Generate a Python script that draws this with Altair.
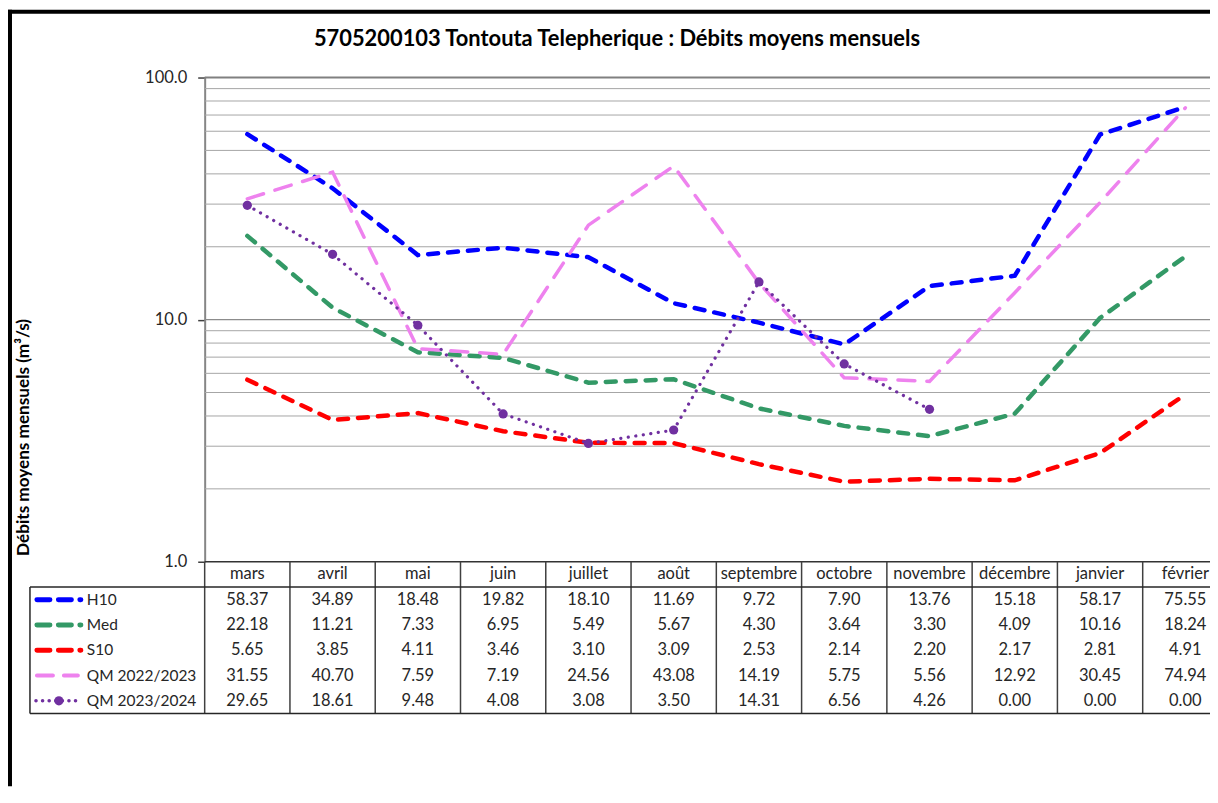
import altair as alt
import pandas as pd

# ---------------- data ----------------
months = ["mars", "avril", "mai", "juin", "juillet", "août", "septembre",
          "octobre", "novembre", "décembre", "janvier", "février"]
series_names = ["H10", "Med", "S10", "QM 2022/2023", "QM 2023/2024"]
h10 = [58.37, 34.89, 18.48, 19.82, 18.10, 11.69, 9.72, 7.90, 13.76, 15.18, 58.17, 75.55]
med = [22.18, 11.21, 7.33, 6.95, 5.49, 5.67, 4.30, 3.64, 3.30, 4.09, 10.16, 18.24]
s10 = [5.65, 3.85, 4.11, 3.46, 3.10, 3.09, 2.53, 2.14, 2.20, 2.17, 2.81, 4.91]
qm2223 = [31.55, 40.70, 7.59, 7.19, 24.56, 43.08, 14.19, 5.75, 5.56, 12.92, 30.45, 74.94]
qm2324 = [29.65, 18.61, 9.48, 4.08, 3.08, 3.50, 14.31, 6.56, 4.26, 0.00, 0.00, 0.00]
series_values = [h10, med, s10, qm2223, qm2324]
colors = ["#0000FF", "#339966", "#FF0000", "#EE82EE", "#7030A0"]
minor_grid = [2, 3, 4, 5, 6, 7, 8, 9, 20, 30, 40, 50, 60, 70, 80, 90]
major_ticks = [1, 10, 100]

title_text = "5705200103 Tontouta Telepherique : Débits moyens mensuels"
y_title = "Débits moyens mensuels (m³/s)"

FONT = "Lato"
W = 1025
H = 485
TABLE_H = 152
STEP = W / 12

x_enc = alt.X("month:N", sort=months,
              scale=alt.Scale(type="point", padding=0.5, domain=months), axis=None)
ylog = alt.Scale(type="log", domain=[1, 100])
row_scale = alt.Scale(domain=[0, 6], range=[H, H + TABLE_H])

dummy = pd.DataFrame({"a": [0]})

layers = []

# ---------- gridlines ----------
grid_df = pd.DataFrame({"v": minor_grid})
layers.append(alt.Chart(grid_df).mark_rule(color="#A6A6A6", strokeWidth=1).encode(
    x=alt.value(0), x2=alt.value(W),
    y=alt.Y("v:Q", scale=ylog, axis=None)))
layers.append(alt.Chart(pd.DataFrame({"v": [10]})).mark_rule(color="#8C8C8C", strokeWidth=1.3).encode(
    x=alt.value(0), x2=alt.value(W),
    y=alt.Y("v:Q", scale=ylog, axis=None)))
layers.append(alt.Chart(pd.DataFrame({"v": [100]})).mark_rule(color="#808080", strokeWidth=2).encode(
    x=alt.value(0), x2=alt.value(W),
    y=alt.Y("v:Q", scale=ylog, axis=alt.Axis(
        values=major_ticks, format=".1f", labelFont=FONT, labelFontSize=16.5,
        labelColor="#262626", labelPadding=11, tickSize=7, tickColor="#404040",
        tickWidth=1.5, domainColor="#868686", domainWidth=2, grid=False,
        title=y_title, titleFont=FONT, titleFontSize=17.2, titleFontWeight="bold",
        titleColor="#000000", titleX=-181, titleY=360, titleAlign="center",
        titleBaseline="middle", titleAngle=270))))
layers.append(alt.Chart(pd.DataFrame({"v": [1]})).mark_rule(color="#333333", strokeWidth=1.5).encode(
    x=alt.value(0), x2=alt.value(W),
    y=alt.Y("v:Q", scale=ylog, axis=None)))

# ---------- series lines ----------
line_styles = [
    dict(strokeWidth=4.5, strokeDash=[10, 10], strokeCap="round"),
    dict(strokeWidth=4.5, strokeDash=[10, 10], strokeCap="round"),
    dict(strokeWidth=4.5, strokeDash=[10, 10], strokeCap="round"),
    dict(strokeWidth=3.5, strokeDash=[17, 12], strokeCap="round"),
    dict(strokeWidth=3.2, strokeDash=[0.1, 7.5], strokeCap="round"),
]
for name, vals, col, st in zip(series_names, series_values, colors, line_styles):
    df = pd.DataFrame({"month": months, "value": vals})
    df = df[df["value"] > 0]
    layers.append(alt.Chart(df).mark_line(color=col, **st).encode(
        x=x_enc, y=alt.Y("value:Q", scale=ylog, axis=None)))
    if name == "QM 2023/2024":
        layers.append(alt.Chart(df).mark_point(filled=True, color=col, size=85, opacity=1).encode(
            x=x_enc, y=alt.Y("value:Q", scale=ylog, axis=None)))

# ---------- data table ----------
sep_df = pd.DataFrame({"month": months, "r0": [0] * 12, "r1": [6] * 12})
layers.append(alt.Chart(sep_df).mark_rule(color="#404040", strokeWidth=1.5, xOffset=-STEP / 2).encode(
    x=x_enc, y=alt.Y("r0:Q", scale=row_scale, axis=None), y2="r1:Q"))
hl_df = pd.DataFrame({"r": [1, 6]})
layers.append(alt.Chart(hl_df).mark_rule(color="#262626", strokeWidth=1.5).encode(
    x=alt.value(-175), x2=alt.value(W), y=alt.Y("r:Q", scale=row_scale, axis=None)))
lb_df = pd.DataFrame({"r0": [1], "r1": [6]})
layers.append(alt.Chart(lb_df).mark_rule(color="#262626", strokeWidth=1.5).encode(
    x=alt.value(-175), y=alt.Y("r0:Q", scale=row_scale, axis=None), y2="r1:Q"))
hdr_df = pd.DataFrame({"month": months, "r": [0.5] * 12})
layers.append(alt.Chart(hdr_df).mark_text(font=FONT, fontSize=16.5, color="#262626").encode(
    x=x_enc, y=alt.Y("r:Q", scale=row_scale, axis=None), text="month:N"))
rows = []
for i, (name, vals) in enumerate(zip(series_names, series_values)):
    for m, v in zip(months, vals):
        rows.append({"month": m, "r": i + 1.5, "label": f"{v:.2f}"})
val_df = pd.DataFrame(rows)
layers.append(alt.Chart(val_df).mark_text(font=FONT, fontSize=16.5, color="#262626").encode(
    x=x_enc, y=alt.Y("r:Q", scale=row_scale, axis=None), text="label:N"))

swatch_styles = [
    dict(strokeWidth=5, strokeDash=[13, 8.5], strokeCap="round"),
    dict(strokeWidth=5, strokeDash=[13, 8.5], strokeCap="round"),
    dict(strokeWidth=5, strokeDash=[13, 8.5], strokeCap="round"),
    dict(strokeWidth=4, strokeDash=[16, 11], strokeCap="round"),
    dict(strokeWidth=3.5, strokeDash=[0.1, 6.5], strokeCap="round"),
]
for i, (name, col, st) in enumerate(zip(series_names, colors, swatch_styles)):
    sdf = pd.DataFrame({"r": [i + 1.5], "name": [name]})
    if i < 3:
        x0, x1 = -168, -124
    elif i == 3:
        x0, x1 = -168, -127
    else:
        x0, x1 = -169, -126
    layers.append(alt.Chart(sdf).mark_rule(color=col, **st).encode(
        x=alt.value(x0), x2=alt.value(x1), y=alt.Y("r:Q", scale=row_scale, axis=None)))
    if i == 4:
        layers.append(alt.Chart(sdf).mark_point(filled=True, color=col, size=85, opacity=1).encode(
            x=alt.value(-146), y=alt.Y("r:Q", scale=row_scale, axis=None)))
    layers.append(alt.Chart(sdf).mark_text(font=FONT, fontSize=15.5, color="#262626", align="left").encode(
        x=alt.value(-118), y=alt.Y("r:Q", scale=row_scale, axis=None), text="name:N"))

# ---------- title and frame ----------
layers.append(alt.Chart(dummy).mark_text(font=FONT, fontSize=21.9, fontWeight="bold",
                                         color="#000000", align="center", baseline="middle").encode(
    x=alt.value(413), y=alt.value(-39), text=alt.value(title_text)))
layers.append(alt.Chart(dummy).mark_rule(color="#000000", strokeWidth=4).encode(
    x=alt.value(-197), x2=alt.value(W), y=alt.value(-66)))
layers.append(alt.Chart(dummy).mark_rule(color="#000000", strokeWidth=4).encode(
    x=alt.value(-195), y=alt.value(-68), y2=alt.value(710)))

chart = alt.layer(*layers).resolve_scale(y="independent").properties(
    width=W, height=H,
    padding={"left": -2, "top": -1, "right": -20, "bottom": 0},
    autosize=alt.AutoSizeParams(type="pad"),
    background="#FFFFFF",
).configure_view(stroke=None)

chart.save("out.html", embed_options={"renderer": "svg", "actions": False})
